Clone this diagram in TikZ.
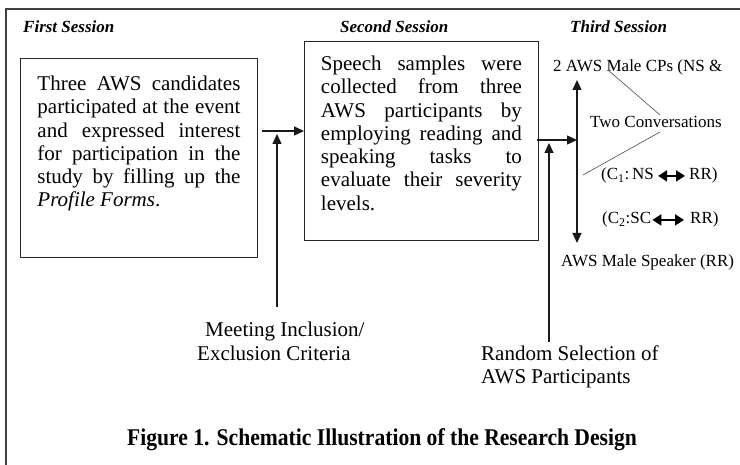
\documentclass[tikz,border=0pt]{standalone}
\usepackage{fontspec}
\usepackage{graphicx}
\setmainfont{Liberation Serif}
\usetikzlibrary{arrows.meta}
\hyphenpenalty=10000
\exhyphenpenalty=10000

\tikzset{
    sessionbox/.style={draw=black!85, line width=0.9pt, anchor=north west,
        inner xsep=17pt, inner ysep=0pt, align=justify,
        font=\fontsize{21}{23.3}\selectfont},
    sessiontitle/.style={anchor=base west, inner sep=0pt,
        font=\fontsize{17}{20}\selectfont\bfseries\itshape},
    sidetext/.style={anchor=base west, inner sep=0pt, font=\fontsize{17}{20}\selectfont},
    criteria/.style={anchor=north west, inner sep=0pt, align=left,
        font=\fontsize{21}{23.3}\selectfont},
    arr/.style={line width=1.3pt, black!90, -{Triangle[length=10pt,width=9pt]}},
    dblarr/.style={line width=1.3pt, black!90,
        {Triangle[length=10pt,width=9pt]}-{Triangle[length=10pt,width=9pt]}},
    swap/.style={line width=2pt, black,
        {Triangle[length=9pt,width=11pt]}-{Triangle[length=9pt,width=11pt]}},
    thinline/.style={line width=0.6pt, black!70},
}

\begin{document}
\begin{tikzpicture}[x=1pt, y=-1pt]
    \useasboundingbox (0,0) rectangle (740,465);

    % Frame
    \draw[line width=1.4pt, black!75] (6,465) -- (6,9) -- (740,9);

    % Nodes
    \node[sessiontitle] (t1) at (23,33) {First Session};
    \node[sessiontitle] (t2) at (340,33) {Second Session};
    \node[sessiontitle] (t3) at (570,33) {Third Session};

    \node[sessionbox, text width=203pt, text height=32pt, text depth=167pt] (box1) at (20,58)
        {Three AWS candidates\linebreak participated at the event\linebreak and expressed interest\linebreak
         for participation in the\linebreak study by filling up the\linebreak \textit{Profile Forms}.};
    \node[sessionbox, inner xsep=16.5pt, text width=201pt, text height=29pt, text depth=170pt] (box2) at (304,41)
        {Speech samples were\linebreak collected from three\linebreak AWS participants by\linebreak
         employing reading and\linebreak speaking tasks to\linebreak evaluate their severity\linebreak levels.};

    \node[criteria] (meet) at (197,322) {\hspace{8pt}Meeting Inclusion/\\Exclusion Criteria};
    \node[criteria] (rand) at (481,345.5) {Random Selection of\\AWS Participants};

    \node[sidetext] (cps) at (553,72) {2 AWS Male CPs (NS \&};
    \node[sidetext] (conv) at (590,128) {Two Conversations};
    \node[sidetext] (c1a) at (601,180) {(C\textsubscript{1}:\,NS};
    \node[sidetext] (c1b) at (689,180) {RR)};
    \node[sidetext] (c2a) at (602,224) {(C\textsubscript{2}:SC};
    \node[sidetext] (c2b) at (690,224) {RR)};
    \node[sidetext] (spk) at (561,267) {AWS Male Speaker (RR)};

    \node[anchor=base, inner sep=0pt, font=\fontsize{24}{26}\selectfont\bfseries] (cap) at (382,446)
        {\scalebox{0.9}[1]{Figure 1. Schematic Illustration of the Research Design}};

    % Coordinates
    \coordinate (j1) at (262,131);
    \coordinate (j2) at (537,140);
    \coordinate (up) at (577,80);
    \coordinate (down) at (577,243);
    \coordinate (mtail) at (277,307);
    \coordinate (rtail) at (549,342);
    \coordinate (cpsmark) at (608,70);
    \coordinate (convend) at (583,175);

    % Lines
    \draw[arr] (j1) -- (box2.west |- j1);
    \draw[arr] (mtail) -- (277,134);
    \draw[arr] (j2) -- (j2 -| up);
    \draw[arr] (rtail) -- (549,143);
    \draw[dblarr] (up) -- (down);

    \draw[thinline] (cpsmark) -- (660,115);
    \draw[thinline] (660,132) -- (convend);

    \draw[swap] ([xshift=4pt]c1a.east) -- ([xshift=-4pt]c1b.west);
    \draw[swap] ([xshift=1pt]c2a.east) -- ([xshift=-6pt]c2b.west);
\end{tikzpicture}
\end{document}
